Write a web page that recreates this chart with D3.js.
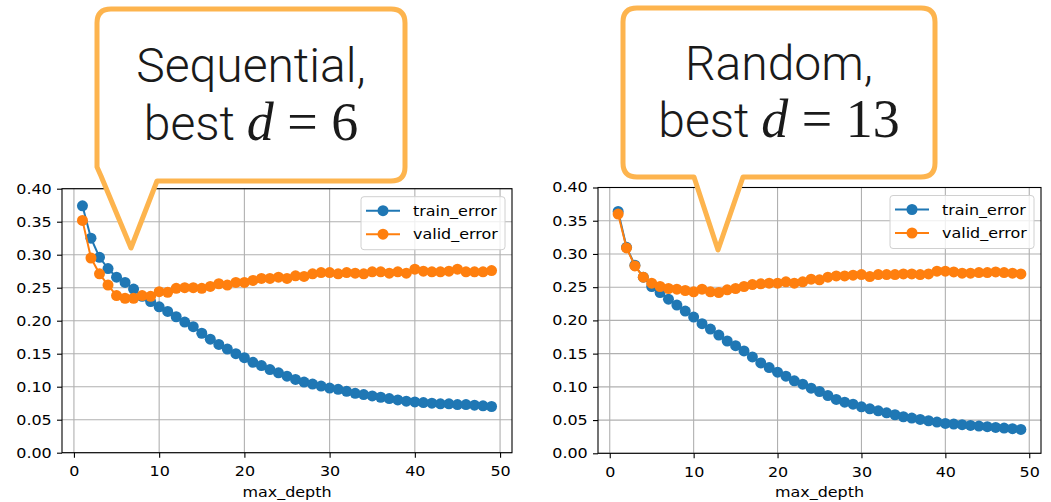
<!DOCTYPE html>
<html>
<head>
<meta charset="utf-8">
<script src="https://cdn.jsdelivr.net/npm/d3@7"></script>
<style>
  body { margin: 0; background: #fff; }
  svg { display: block; }
</style>
</head>
<body>
<div id="chart"></div>
<script>
// depth values shared by both panels
const depths = d3.range(1, 50);

// Sequential split
const seqTrain = [0.374, 0.325, 0.296, 0.279, 0.266, 0.258, 0.248, 0.237, 0.229, 0.221,
  0.214, 0.206, 0.198, 0.191, 0.181, 0.172, 0.164, 0.157, 0.150, 0.144,
  0.137, 0.132, 0.126, 0.121, 0.116, 0.111, 0.107, 0.104, 0.101, 0.098,
  0.096, 0.093, 0.090, 0.088, 0.086, 0.084, 0.082, 0.080, 0.078, 0.077,
  0.076, 0.075, 0.074, 0.074, 0.073, 0.073, 0.072, 0.071, 0.070];
const seqValid = [0.352, 0.295, 0.271, 0.254, 0.238, 0.234, 0.234, 0.238, 0.237, 0.244,
  0.243, 0.249, 0.250, 0.250, 0.249, 0.252, 0.256, 0.254, 0.258, 0.258,
  0.261, 0.264, 0.264, 0.266, 0.264, 0.268, 0.267, 0.271, 0.273, 0.273,
  0.271, 0.273, 0.272, 0.271, 0.274, 0.274, 0.272, 0.274, 0.272, 0.278,
  0.275, 0.274, 0.274, 0.275, 0.278, 0.274, 0.274, 0.274, 0.276];

// Random split
const rndTrain = [0.364, 0.310, 0.283, 0.265, 0.251, 0.242, 0.232, 0.223, 0.214, 0.205,
  0.195, 0.187, 0.178, 0.169, 0.162, 0.154, 0.145, 0.136, 0.129, 0.122,
  0.116, 0.109, 0.104, 0.098, 0.093, 0.087, 0.081, 0.077, 0.074, 0.070,
  0.067, 0.064, 0.061, 0.058, 0.055, 0.053, 0.051, 0.049, 0.047, 0.045,
  0.044, 0.043, 0.042, 0.041, 0.040, 0.039, 0.038, 0.037, 0.036];
const rndValid = [0.360, 0.309, 0.282, 0.265, 0.256, 0.251, 0.248, 0.247, 0.245, 0.243,
  0.247, 0.243, 0.242, 0.246, 0.248, 0.251, 0.254, 0.255, 0.256, 0.256,
  0.258, 0.256, 0.258, 0.262, 0.261, 0.265, 0.267, 0.267, 0.268, 0.269,
  0.266, 0.269, 0.269, 0.269, 0.270, 0.270, 0.269, 0.270, 0.274, 0.274,
  0.273, 0.271, 0.271, 0.272, 0.272, 0.273, 0.272, 0.271, 0.270];

const seriesNames = ["train_error", "valid_error"];
const seriesColors = ["#1f77b4", "#ff7f0e"];
const xTicks = [0, 10, 20, 30, 40, 50];
const yTicks = [0, 0.05, 0.1, 0.15, 0.2, 0.25, 0.3, 0.35, 0.4];
const calloutTitles = ["Sequential,", "Random,"];
const bestDepths = ["6", "13"];

// the source picture is a little wider than tall, small text is stretched
const stretch = 1.14;

const svg = d3.select("#chart").append("svg")
  .attr("width", 1051)
  .attr("height", 502);

function smallText(sel) {
  return sel.style("font-family", "'DejaVu Sans', sans-serif")
    .style("font-size", "14px")
    .attr("fill", "#000");
}

function drawPanel(p) {
  const x = d3.scaleLinear().domain([-1.4, 51.4]).range([p.left, p.right]);
  const y = d3.scaleLinear().domain([0, 0.4]).range([p.bottom, p.top]);
  const g = svg.append("g");

  // grid
  g.selectAll(".gx").data(xTicks).enter().append("line")
    .attr("x1", d => x(d)).attr("x2", d => x(d))
    .attr("y1", p.top).attr("y2", p.bottom)
    .attr("stroke", "#b0b0b0").attr("stroke-width", 1.1);
  g.selectAll(".gy").data(yTicks).enter().append("line")
    .attr("x1", p.left).attr("x2", p.right)
    .attr("y1", d => y(d)).attr("y2", d => y(d))
    .attr("stroke", "#b0b0b0").attr("stroke-width", 1.1);

  // series
  p.series.forEach((vals, i) => {
    const pts = depths.map((d, j) => [d, vals[j]]);
    g.append("path")
      .attr("d", d3.line().x(d => x(d[0])).y(d => y(d[1]))(pts))
      .attr("fill", "none")
      .attr("stroke", seriesColors[i])
      .attr("stroke-width", 2);
    g.selectAll(".pt" + i).data(pts).enter().append("circle")
      .attr("cx", d => x(d[0])).attr("cy", d => y(d[1]))
      .attr("r", 5.5)
      .attr("fill", seriesColors[i]);
  });

  // frame
  g.append("rect")
    .attr("x", p.left).attr("y", p.top)
    .attr("width", p.right - p.left).attr("height", p.bottom - p.top)
    .attr("fill", "none").attr("stroke", "#000").attr("stroke-width", 1.1);

  // axes
  const xAxis = g.append("g").attr("transform", `translate(0,${p.bottom})`)
    .call(d3.axisBottom(x).tickValues(xTicks).tickSize(5).tickPadding(8.5));
  const yAxis = g.append("g").attr("transform", `translate(${p.left},0)`)
    .call(d3.axisLeft(y).tickValues(yTicks).tickFormat(d3.format(".2f")).tickSize(5).tickPadding(4));
  [xAxis, yAxis].forEach(a => {
    a.select(".domain").remove();
    a.selectAll("line").attr("stroke", "#000").attr("stroke-width", 1.1);
    smallText(a.selectAll("text")).attr("transform", `scale(${stretch},1)`);
  });
  xAxis.selectAll(".tick text").attr("transform", null)
    .attr("transform", `scale(${stretch},1)`);

  smallText(g.append("text"))
    .attr("transform", `translate(${(p.left + p.right) / 2},497) scale(${stretch},1)`)
    .attr("text-anchor", "middle")
    .text("max_depth");

  // legend
  const lg = g.append("g").attr("transform", `translate(${p.right - 151},${p.top + 8})`);
  lg.append("rect")
    .attr("width", 144).attr("height", 53).attr("rx", 3)
    .attr("fill", "#fff").attr("fill-opacity", 0.8)
    .attr("stroke", "#d0d0d0").attr("stroke-width", 1);
  seriesNames.forEach((name, i) => {
    const ly = 14 + i * 23.5;
    lg.append("line").attr("x1", 5).attr("x2", 39).attr("y1", ly).attr("y2", ly)
      .attr("stroke", seriesColors[i]).attr("stroke-width", 2);
    lg.append("circle").attr("cx", 22).attr("cy", ly).attr("r", 5.5).attr("fill", seriesColors[i]);
    smallText(lg.append("text"))
      .attr("transform", `translate(52,${ly + 5}) scale(${stretch},1)`)
      .text(name);
  });
}

function drawCallout(c, i) {
  const r = 14;
  const path = [
    `M${c.x0 + r},${c.y0}`,
    `H${c.x1 - r}`,
    `Q${c.x1},${c.y0} ${c.x1},${c.y0 + r}`,
    `V${c.y1 - r}`,
    `Q${c.x1},${c.y1} ${c.x1 - r},${c.y1}`,
    `H${c.pr}`,
    `L${c.tx},${c.ty}`,
    `L${c.pl},${c.plY}`,
    c.pl > c.x0 + r ? `H${c.x0 + r} Q${c.x0},${c.y1} ${c.x0},${c.y1 - r}` : `L${c.x0},${c.y1 - r}`,
    `V${c.y0 + r}`,
    `Q${c.x0},${c.y0} ${c.x0 + r},${c.y0}`,
    "Z"
  ].join(" ");
  svg.append("path")
    .attr("d", path)
    .attr("fill", "#fff")
    .attr("stroke", "#fdb44e")
    .attr("stroke-width", 5)
    .attr("stroke-linejoin", "round");

  const cx = (c.x0 + c.x1) / 2;
  svg.append("text")
    .attr("x", cx).attr("y", c.line1)
    .attr("text-anchor", "middle")
    .style("font-family", "Roboto").style("font-weight", 300)
    .style("font-size", "48px").attr("fill", "#1a1a1a")
    .text(calloutTitles[i]);
  const t2 = svg.append("text")
    .attr("x", cx).attr("y", c.line2)
    .attr("text-anchor", "middle")
    .attr("fill", "#1a1a1a");
  t2.append("tspan").style("font-family", "Roboto").style("font-weight", 300)
    .style("font-size", "48px").text("best ");
  t2.append("tspan").style("font-family", "'Liberation Serif'").style("font-style", "italic")
    .style("font-size", "54px").text("d");
  t2.append("tspan").style("font-family", "'Liberation Serif'")
    .style("font-size", "54px").text(" = " + bestDepths[i]);
}

drawPanel({ left: 62, right: 512, top: 188.7, bottom: 452.7, series: [seqTrain, seqValid] });
drawPanel({ left: 598, right: 1041, top: 187.5, bottom: 453.3, series: [rndTrain, rndValid] });

drawCallout({ x0: 97, x1: 405, y0: 9, y1: 181, pl: 101, plY: 176, pr: 157, tx: 131, ty: 248,
  line1: 82, line2: 140 }, 0);
drawCallout({ x0: 623, x1: 935, y0: 8, y1: 177, pl: 694, plY: 177, pr: 743, tx: 718, ty: 250,
  line1: 80, line2: 137 }, 1);
</script>
</body>
</html>
